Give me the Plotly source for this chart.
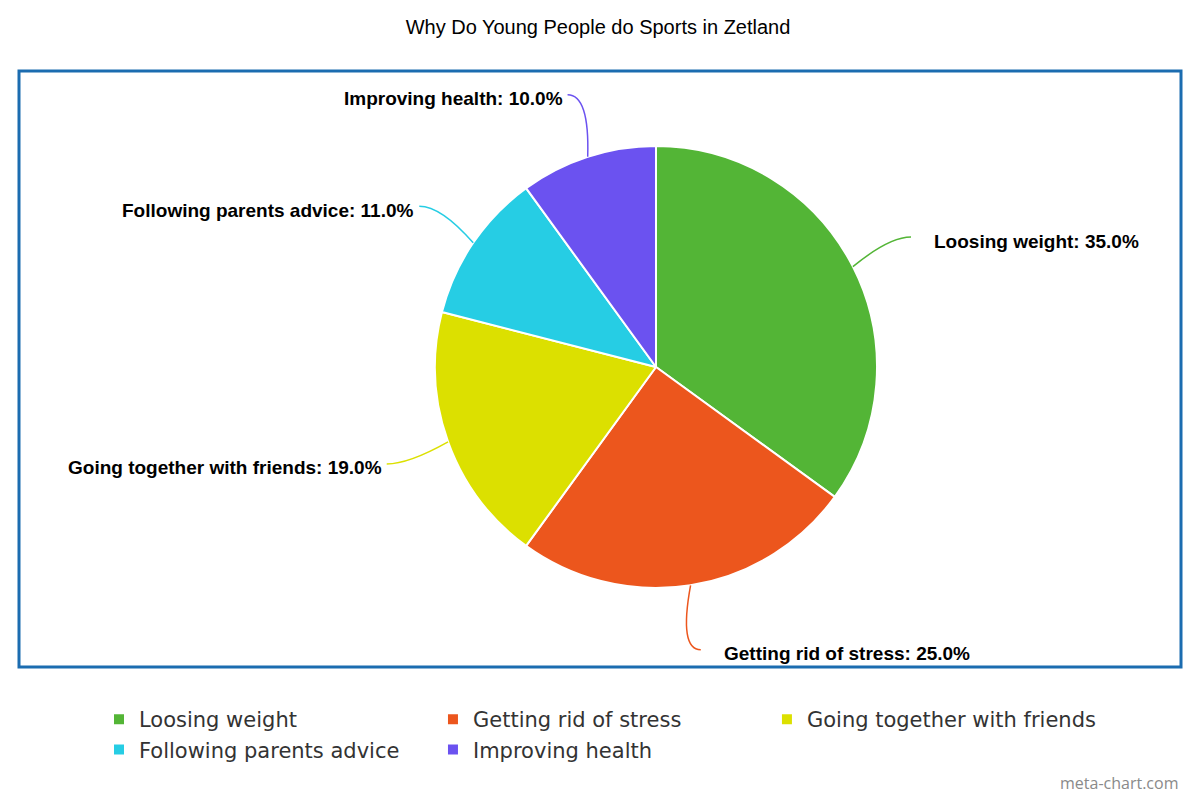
import math
import plotly.graph_objects as go

labels = ['Loosing weight', 'Getting rid of stress', 'Going together with friends',
          'Following parents advice', 'Improving health']
values = [35, 25, 19, 11, 10]
colors = ['#53b536', '#ec561d', '#dce000', '#26cde4', '#6b52f0']

# the page puts the figure 8px in from the window corner
OFF = 8
W, H = 1200 - OFF, 800 - OFF
CX, CY, R = 656, 367, 221   # pie centre / radius in window pixels


def px(x):
    return (x - OFF) / W


def py(y):
    return 1 - (y - OFF) / H


fig = go.Figure()

fig.add_trace(go.Pie(
    labels=labels,
    values=values,
    sort=False,
    direction='clockwise',
    rotation=0,
    textinfo='none',
    hovertemplate='%{label}: %{percent:.1%}<extra></extra>',
    marker=dict(colors=colors, line=dict(color='white', width=2)),
    domain=dict(x=[px(CX - R), px(CX + R)], y=[py(CY + R), py(CY - R)])
))

# outside labels with curved connectors, placed from the slice mid-angles
shapes = []
annotations = []
total = sum(values)
cum = 0
for lab, val, col in zip(labels, values, colors):
    mid = (cum + val / 2) / total * 2 * math.pi
    cum += val
    s, c = math.sin(mid), math.cos(mid)
    sx, sy = CX + R * s, CY - R * c
    ex, ey = CX + 1.295 * R * s, CY - 1.295 * R * c
    side = 1 if s > 0 else -1
    qx, qy = ex - side * 22, ey
    shapes.append(dict(
        type='path', xref='paper', yref='paper',
        path=f'M {px(sx)},{py(sy)} Q {px(qx)},{py(qy)} {px(ex)},{py(ey)}',
        line=dict(color=col, width=1.5)
    ))
    annotations.append(dict(
        x=px(ex + (21 if side > 0 else -3)), y=py(ey + 4),
        xref='paper', yref='paper',
        xanchor='left' if side > 0 else 'right', yanchor='middle',
        text=f'<b>{lab}: {val / total * 100:.1f}%</b>',
        showarrow=False,
        font=dict(family='Liberation Sans, Arial', size=19, color='#000000')
    ))

# frame round the plot area
shapes.append(dict(
    type='rect', xref='paper', yref='paper',
    x0=px(19), x1=px(1181), y0=py(667), y1=py(71),
    line=dict(color='#1b6cb0', width=3)
))

annotations.append(dict(
    x=px(1180), y=py(783), xref='paper', yref='paper',
    xanchor='right', yanchor='middle', showarrow=False,
    text='meta-chart.com',
    font=dict(family='Open Sans', size=16, color='#8a8a8a')
))

fig.update_layout(
    width=W,
    height=H,
    margin=dict(l=0, r=0, t=0, b=0),
    paper_bgcolor='white',
    plot_bgcolor='white',
    title=dict(
        text='Why Do Young People do Sports in Zetland',
        x=px(598), xanchor='center', y=py(27), yanchor='middle',
        font=dict(family='Liberation Sans, Arial', size=20, color='#000000')
    ),
    showlegend=True,
    legend=dict(
        orientation='h',
        x=px(600), xanchor='center',
        y=py(699), yanchor='top',
        traceorder='normal',
        font=dict(family='DejaVu Sans', size=21, color='#333333')
    ),
    shapes=shapes,
    annotations=annotations
)

fig.write_html('out.html')
